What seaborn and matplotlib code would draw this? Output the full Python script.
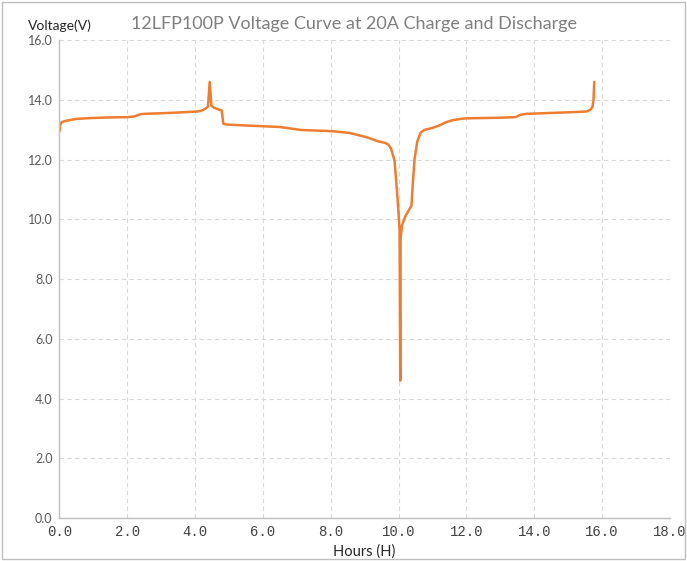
import pandas as pd
import seaborn as sns
import matplotlib.pyplot as plt
from matplotlib.patches import Rectangle

# hours / voltage
hours = [0.0, 0.02, 0.06, 0.2, 0.5, 0.94, 1.5, 2.0, 2.2, 2.3, 2.4, 2.5, 3.0, 3.6, 4.07, 4.2, 4.3, 4.38, 4.43, 4.48, 4.55,
         4.7, 4.78, 4.8, 4.83, 4.94, 5.5, 6.5, 7.12, 8.05, 8.56, 9.05, 9.4, 9.6, 9.7, 9.78, 9.88,
         9.95, 10.0, 10.03, 10.05, 10.06, 10.1, 10.2, 10.33, 10.38, 10.42, 10.47, 10.55,
         10.65, 10.76, 11.0, 11.2, 11.4, 11.6, 11.9, 12.0, 13.0, 13.45, 13.6, 13.78, 14.5, 15.2, 15.55,
         15.65, 15.72, 15.75, 15.77]
voltage = [12.95, 13.15, 13.25, 13.3, 13.36, 13.39, 13.41, 13.42, 13.44, 13.48, 13.52, 13.53, 13.55, 13.58, 13.61, 13.64, 13.7, 13.78, 14.6, 13.8, 13.74,
           13.67, 13.65, 13.5, 13.2, 13.17, 13.14, 13.09, 12.99, 12.95, 12.89, 12.75, 12.61, 12.56, 12.5, 12.36, 11.97,
           11.0, 10.2, 9.6, 4.6, 9.35, 9.8, 10.1, 10.36, 10.45, 11.2, 12.0, 12.6,
           12.9, 12.99, 13.06, 13.14, 13.25, 13.32, 13.37, 13.38, 13.4, 13.42, 13.5, 13.53, 13.56, 13.59, 13.61,
           13.66, 13.76, 14.0, 14.6]

x_ticks = [0, 2, 4, 6, 8, 10, 12, 14, 16, 18]
y_ticks = [0, 2, 4, 6, 8, 10, 12, 14, 16]

df = pd.DataFrame({"hours": hours, "voltage": voltage})

sns.set_style("white")
fig = plt.figure(figsize=(6.87, 5.61), dpi=100)
ax = fig.add_axes([0.0866, 0.0766, 0.8884, 0.852])

sns.lineplot(data=df, x="hours", y="voltage", sort=False, estimator=None,
             color="#ED7D31", linewidth=1.8, ax=ax)

ax.set_xlim(0, 18)
ax.set_ylim(0, 16)
ax.set_xticks(x_ticks)
ax.set_yticks(y_ticks)
ax.set_xticklabels([f"{v:.1f}" for v in x_ticks], family="Liberation Mono", fontsize=10, color="#404040")
ax.set_yticklabels([f"{v:.1f}" for v in y_ticks], family="Lato", fontsize=9, color="#595959")
ax.tick_params(length=0, pad=5)

ax.grid(True, linestyle=(0, (4, 3)), color="#d9d9d9", linewidth=0.8)
for s in ["top", "right"]:
    ax.spines[s].set_visible(False)
for s in ["left", "bottom"]:
    ax.spines[s].set_color("#bfbfbf")
    ax.spines[s].set_linewidth(1.0)
ax.set_axisbelow(True)

ax.set_xlabel("Hours (H)", family="Lato", fontsize=10.5, color="#262626", labelpad=4)
ax.set_ylabel("")
fig.text(0.04, 0.955, "Voltage(V)", family="Lato", fontsize=10, color="#262626", va="center")
fig.text(0.515, 0.958, "12LFP100P Voltage Curve at 20A Charge and Discharge",
         family="Lato", fontsize=13, color="#7f7f7f", ha="center", va="center")

fig.patches.append(Rectangle((0.003, 0.004), 0.994, 0.992, transform=fig.transFigure,
                             fill=False, edgecolor="#bfbfbf", linewidth=1.0))

fig.savefig("out.png", dpi=100)
